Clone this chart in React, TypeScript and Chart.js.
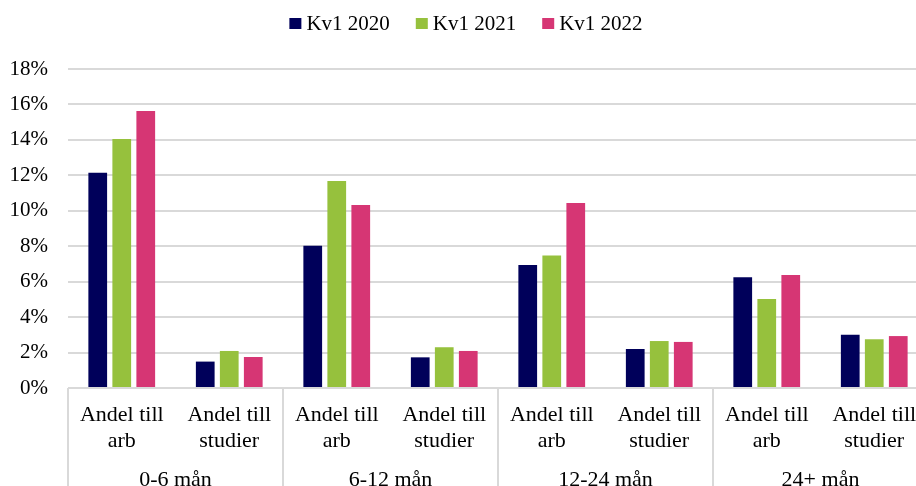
import React, { useEffect, useRef } from "react";
import { Chart, registerables } from "chart.js";

Chart.register(...registerables);

const subCategories: string[][] = [
  ["Andel till", "arb"],
  ["Andel till", "studier"],
  ["Andel till", "arb"],
  ["Andel till", "studier"],
  ["Andel till", "arb"],
  ["Andel till", "studier"],
  ["Andel till", "arb"],
  ["Andel till", "studier"],
];
const groupLabels = ["0-6 mån", "6-12 mån", "12-24 mån", "24+ mån"];
const seriesNames = ["Kv1 2020", "Kv1 2021", "Kv1 2022"];
const kv1_2020 = [12.15, 1.49, 8.03, 1.73, 6.94, 2.2, 6.25, 3.01];
const kv1_2021 = [14.05, 2.09, 11.68, 2.3, 7.47, 2.65, 5.02, 2.75];
const kv1_2022 = [15.63, 1.75, 10.33, 2.09, 10.44, 2.6, 6.38, 2.93];
const yTicks = [0, 2, 4, 6, 8, 10, 12, 14, 16, 18];

const COLORS = ["#00005a", "#96c13d", "#d63674"];
const FONT = "'Liberation Serif', 'Times New Roman', serif";
const GRID = "#d9d9d9";

const legendPlugin = {
  id: "customLegend",
  afterDraw(chart: any) {
    const ctx = chart.ctx;
    const datasets = chart.data.datasets;
    ctx.save();
    ctx.font = `21px ${FONT}`;
    ctx.textBaseline = "middle";
    const boxW = 12;
    const boxH = 11;
    const gap = 5;
    const itemGap = 26;
    const widths = datasets.map((d: any) => boxW + gap + ctx.measureText(d.label).width);
    const total = widths.reduce((a: number, b: number) => a + b, 0) + itemGap * (datasets.length - 1);
    let x = 466 - total / 2;
    const cy = 23.5;
    datasets.forEach((d: any, i: number) => {
      ctx.fillStyle = d.backgroundColor;
      ctx.fillRect(x, cy - boxH / 2, boxW, boxH);
      ctx.fillStyle = "#000";
      ctx.fillText(d.label, x + boxW + gap, cy + 1);
      x += widths[i] + itemGap;
    });
    ctx.restore();
  },
};

const separatorPlugin = {
  id: "groupSeparators",
  afterDraw(chart: any) {
    const xs = chart.scales.x;
    const ctx = chart.ctx;
    const n = subCategories.length;
    const step = (xs.right - xs.left) / n;
    ctx.save();
    ctx.strokeStyle = GRID;
    ctx.lineWidth = 2;
    for (let i = 0; i <= n; i += 2) {
      const px = Math.round(xs.getPixelForValue(i) - step / 2);
      ctx.beginPath();
      ctx.moveTo(px, chart.chartArea.bottom);
      ctx.lineTo(px, chart.height);
      ctx.stroke();
    }
    ctx.restore();
  },
};

export default function App() {
  const ref = useRef<HTMLCanvasElement | null>(null);
  useEffect(() => {
    if (!ref.current) return;
    const chart = new Chart(ref.current, {
      type: "bar",
      data: {
        labels: subCategories,
        datasets: [kv1_2020, kv1_2021, kv1_2022].map((d, i) => ({
          label: seriesNames[i],
          data: d,
          backgroundColor: COLORS[i],
          borderWidth: 0,
          categoryPercentage: 0.67,
          barPercentage: 0.78,
          xAxisID: "x",
        })),
      },
      options: {
        responsive: false,
        animation: false,
        layout: { padding: { top: 69, right: 12, left: 0, bottom: 0 } },
        plugins: {
          legend: { display: false },
          tooltip: { enabled: false },
        },
        scales: {
          x: {
            type: "category",
            position: "bottom",
            grid: { display: false },
            border: { display: false },
            ticks: {
              color: "#000",
              font: { family: FONT, size: 22, lineHeight: 1.15 },
              padding: 7,
              maxRotation: 0,
              autoSkip: false,
            },
            afterFit(scale: any) {
              scale.height = 62;
            },
          },
          x2: {
            type: "category",
            position: "bottom",
            labels: groupLabels,
            offset: true,
            grid: { display: false },
            border: { display: false },
            ticks: {
              color: "#000",
              font: { family: FONT, size: 22, lineHeight: 1.15 },
              padding: 10,
              maxRotation: 0,
              autoSkip: false,
            },
            afterFit(scale: any) {
              scale.height = 50;
            },
          },
          y: {
            min: 0,
            max: 18,
            afterBuildTicks(scale: any) {
              scale.ticks = yTicks.map((v) => ({ value: v }));
            },
            grid: { color: GRID, lineWidth: 2, drawTicks: false },
            border: { display: false },
            ticks: {
              color: "#000",
              font: { family: FONT, size: 21 },
              padding: 20,
              callback: (v: any) => `${v}%`,
            },
            afterFit(scale: any) {
              scale.width = 68;
            },
          },
        },
      } as any,
      plugins: [legendPlugin, separatorPlugin],
    });
    return () => chart.destroy();
  }, []);
  return (
    <div
      style={{
        position: "fixed",
        left: 0,
        top: 0,
        width: 916,
        height: 486,
        overflow: "hidden",
        background: "#fff",
      }}
    >
      <canvas ref={ref} width={940} height={500} style={{ width: 940, height: 500, display: "block" }} />
    </div>
  );
}
